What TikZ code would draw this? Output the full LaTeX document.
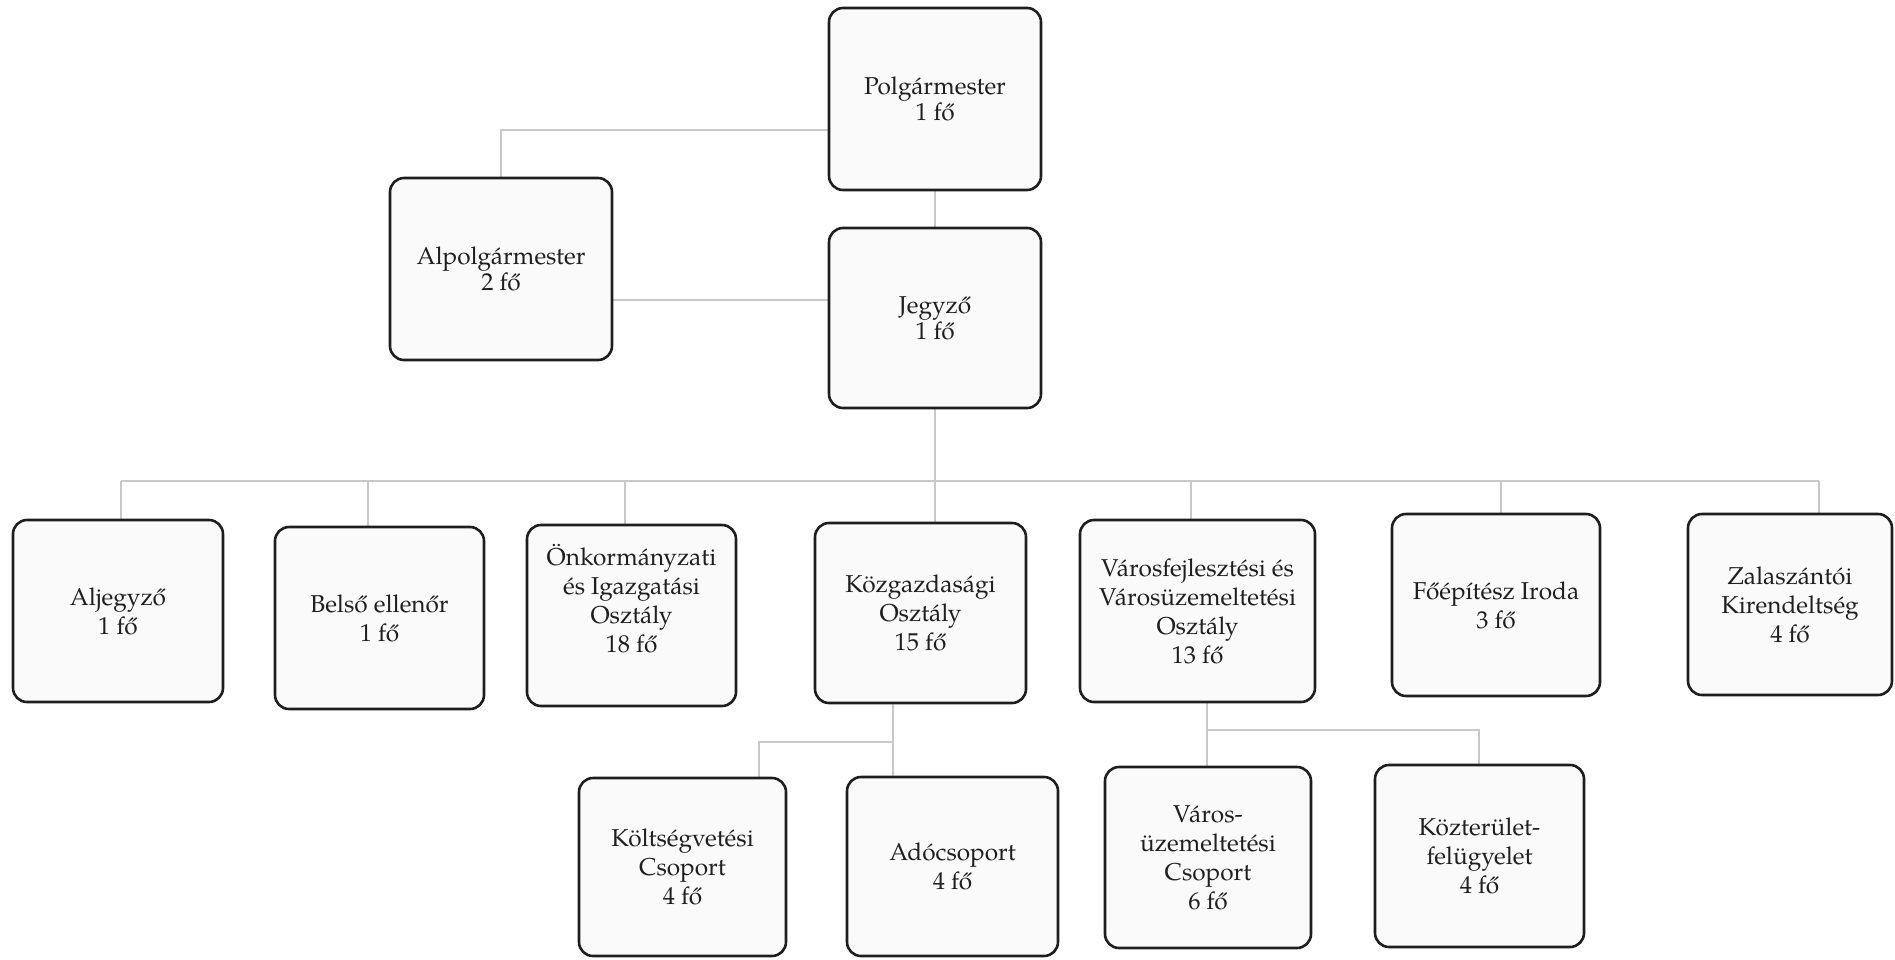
\documentclass[tikz,border=0pt]{standalone}
\usepackage{fontspec}
\setmainfont{TeX Gyre Pagella}
\usetikzlibrary{backgrounds}
\definecolor{boxline}{HTML}{1E1E1E}
\definecolor{boxfill}{HTML}{FAFAFA}
\definecolor{linkgray}{HTML}{C8C8C8}
\begin{document}
\begin{tikzpicture}[x=0.5pt,y=-0.5pt,
  box/.style={draw=boxline, line width=1.3pt, rounded corners=7pt, fill=boxfill,
    align=center, inner sep=0pt, text=black!88,
    font=\fontsize{12.2pt}{14.5pt}\selectfont},
  topbox/.style={box, font=\fontsize{12.2pt}{13pt}\selectfont},
  link/.style={draw=linkgray, line width=1pt}]
\useasboundingbox (0,0) rectangle (1895,959);

% top level
\node[topbox, minimum width=106pt, minimum height=91pt] (polg) at (935,99) {Polgármester\\1 fő};
\node[topbox, minimum width=111pt, minimum height=91pt] (alpolg) at (501,269) {Alpolgármester\\2 fő};
\node[topbox, minimum width=106pt, minimum height=90pt] (jegyzo) at (935,318) {Jegyző\\1 fő};

% second level
\node[box, minimum width=105pt, minimum height=91pt] (aljegyzo) at (118,611) {Aljegyző\\1 fő};
\node[box, minimum width=104.5pt, minimum height=91pt] (belso) at (379.5,618) {Belső ellenőr\\1 fő};
\node[box, minimum width=104.5pt, minimum height=90.5pt] (onk) at (631.5,615.5) {Önkormányzati\\és Igazgatási\\Osztály\\18 fő\rule[-17pt]{0pt}{0pt}};
\node[box, minimum width=105.5pt, minimum height=90pt] (kozg) at (920.5,613) {Közgazdasági\\Osztály\\15 fő};
\node[box, minimum width=117.5pt, minimum height=91pt] (varos) at (1197.5,611) {Városfejlesztési és\\Városüzemeltetési\\Osztály\\13 fő};
\node[box, minimum width=104pt, minimum height=91pt] (foep) at (1496,605) {Főépítész Iroda\\3 fő};
\node[box, minimum width=102pt, minimum height=90.5pt] (zala) at (1790,604.5) {Zalaszántói\\Kirendeltség\\4 fő};

% third level
\node[box, minimum width=103.5pt, minimum height=89pt] (kolt) at (682.5,867) {Költségvetési\\Csoport\\4 fő};
\node[box, minimum width=105.5pt, minimum height=89.5pt] (ado) at (952.5,866.5) {Adócsoport\\4 fő};
\node[box, minimum width=103pt, minimum height=90.5pt] (varuz) at (1208,857.5) {Város-\\üzemeltetési\\Csoport\\6 fő};
\node[box, minimum width=104.5pt, minimum height=91pt] (kozter) at (1479.5,856) {Közterület-\\felügyelet\\4 fő};

% connector helper points
\coordinate (pa) at (501,130);
\coordinate (aj) at (720,300);
\coordinate (busL) at (121,481);
\coordinate (busR) at (1819,481);
\coordinate (d2) at (368,481);
\coordinate (d3) at (625,481);
\coordinate (d4) at (935,481);
\coordinate (d5) at (1191,481);
\coordinate (d6) at (1501,481);
\coordinate (kz) at (893,742);
\coordinate (kk) at (759,742);
\coordinate (vz) at (1207,730);
\coordinate (vk) at (1479,730);

\begin{scope}[on background layer]
\draw[link] (polg.west |- pa) -- (pa) -- (pa |- alpolg.north);
\draw[link] (alpolg.east |- aj) -- (jegyzo.west |- aj);
\draw[link] (polg.south) -- (jegyzo.north);
\draw[link] (jegyzo.south) -- (d4);
\draw[link] (busL) -- (busR);
\draw[link] (busL) -- (busL |- aljegyzo.north);
\draw[link] (d2) -- (d2 |- belso.north);
\draw[link] (d3) -- (d3 |- onk.north);
\draw[link] (d4) -- (d4 |- kozg.north);
\draw[link] (d5) -- (d5 |- varos.north);
\draw[link] (d6) -- (d6 |- foep.north);
\draw[link] (busR) -- (busR |- zala.north);
\draw[link] (kz |- kozg.south) -- (kz |- ado.north);
\draw[link] (kz) -- (kk) -- (kk |- kolt.north);
\draw[link] (vz |- varos.south) -- (vz |- varuz.north);
\draw[link] (vz) -- (vk) -- (vk |- kozter.north);
\end{scope}
\end{tikzpicture}
\end{document}
